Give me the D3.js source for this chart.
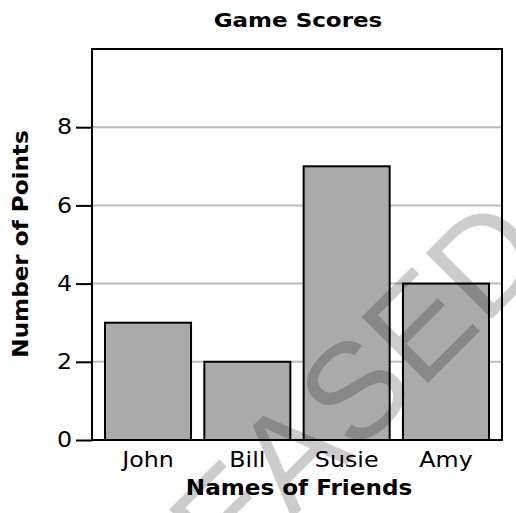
<!DOCTYPE html>
<html>
<head>
<meta charset="utf-8">
<script src="https://cdn.jsdelivr.net/npm/d3@7"></script>
<style>
  html, body { margin: 0; padding: 0; background: #fff; }
  svg { display: block; }
</style>
</head>
<body>
<svg id="chart" width="516" height="513"></svg>
<script>
const categories = ["John", "Bill", "Susie", "Amy"];
const values = [3, 2, 7, 4];
const yTicks = [0, 2, 4, 6, 8];
const gridTicks = [2, 4, 6, 8];
const title = "Game Scores";
const xTitle = "Names of Friends";
const yTitle = "Number of Points";
const watermark = "RELEASED";

const svg = d3.select("#chart");
const L = 92, R = 502, T = 49, B = 440;

const x = d3.scaleBand().domain(categories).range([L, R]).paddingInner(0.134).paddingOuter(0.131);
const y = d3.scaleLinear().domain([0, 10]).range([B, T]);

const font = "'DejaVu Sans', Verdana, sans-serif";
const tickStretch = 1.13;

// gridlines
svg.append("g").selectAll("line").data(gridTicks).join("line")
  .attr("x1", L).attr("x2", R)
  .attr("y1", d => y(d)).attr("y2", d => y(d))
  .attr("stroke", "#bbbbbb").attr("stroke-width", 2);

// bars
svg.append("g").selectAll("rect").data(values).join("rect")
  .attr("x", (d, i) => x(categories[i]))
  .attr("y", d => y(d))
  .attr("width", x.bandwidth())
  .attr("height", d => y(0) - y(d))
  .attr("fill", "#aaaaaa").attr("stroke", "#000").attr("stroke-width", 2);

// frame
svg.append("rect").attr("x", L).attr("y", T).attr("width", R - L).attr("height", B - T)
  .attr("fill", "none").attr("stroke", "#000").attr("stroke-width", 2);

// y axis
const yAxis = d3.axisLeft(y).tickValues(yTicks).tickSize(16).tickPadding(4).tickFormat(d3.format("d"));
const gy = svg.append("g").attr("transform", `translate(${L},0)`).call(yAxis);
gy.select(".domain").remove();
gy.selectAll(".tick line").attr("stroke", "#000").attr("stroke-width", 2);
gy.selectAll(".tick text").attr("font-family", font).attr("font-size", 21).attr("fill", "#000")
  .attr("x", -20 / tickStretch).attr("transform", `scale(${tickStretch},1)`);

// x axis
const xAxis = d3.axisBottom(x).tickSize(0).tickPadding(12);
const gx = svg.append("g").attr("transform", `translate(0,${B})`).call(xAxis);
gx.select(".domain").remove();
gx.selectAll(".tick text").attr("font-family", font).attr("font-size", 21).attr("fill", "#000")
  .attr("transform", `scale(${tickStretch},1)`);

// titles
svg.append("text").attr("transform", "translate(298,27) scale(1.15,1)").attr("text-anchor", "middle")
  .attr("font-family", font).attr("font-weight", "bold").attr("font-size", 20).text(title);
svg.append("text").attr("transform", "translate(299,495) scale(1.1,1)").attr("text-anchor", "middle")
  .attr("font-family", font).attr("font-weight", "bold").attr("font-size", 21).text(xTitle);
svg.append("text").attr("transform", "translate(28,244) rotate(-90) scale(1.1,1)").attr("text-anchor", "middle")
  .attr("font-family", font).attr("font-weight", "bold").attr("font-size", 21).text(yTitle);

// watermark
svg.append("text").attr("transform", "translate(297,514) rotate(-45)").attr("text-anchor", "middle")
  .attr("font-family", "'Liberation Sans', Arial, sans-serif").attr("font-size", 136)
  .attr("fill", "#000").attr("fill-opacity", 0.2).text(watermark);
</script>
</body>
</html>
